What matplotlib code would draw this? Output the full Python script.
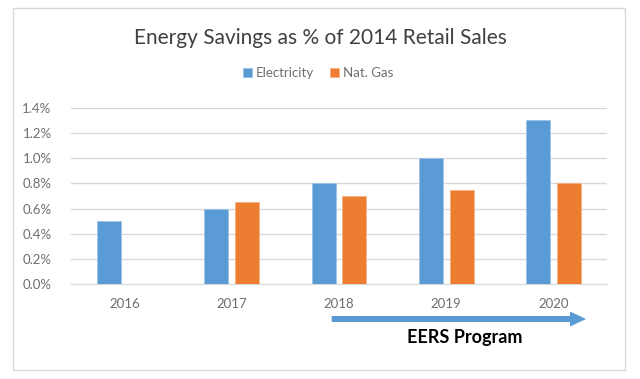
import numpy as np
import matplotlib
matplotlib.use('Agg')
from matplotlib import pyplot as plt
from matplotlib.patches import Rectangle, FancyArrow

plt.rcParams['font.family'] = ['Lato', 'DejaVu Sans']

# data
years = ['2016', '2017', '2018', '2019', '2020']
electricity = [0.5, 0.6, 0.8, 1.0, 1.3]
nat_gas = [np.nan, 0.65, 0.7, 0.75, 0.8]
yticks = [0.0, 0.2, 0.4, 0.6, 0.8, 1.0, 1.2, 1.4]

blue = '#5B9BD5'
orange = '#ED7D31'
grid = '#D9D9D9'
txt = '#6E6E6E'

fig = plt.figure(figsize=(6.4, 3.79), dpi=100)
fig.patch.set_facecolor('white')
# outer chart border
fig.patches.append(Rectangle((13/640, 1-370/379), 612/640, 362/379,
                             transform=fig.transFigure, fill=False,
                             edgecolor=grid, linewidth=1))

ax = fig.add_axes([71/640, 1-284.3/379, 536/640, 176.6/379])
x = np.arange(len(years))
w = 0.224
off = 0.1445
ax.bar(x - off, electricity, w, color=blue, edgecolor='#9DC3E6', linewidth=0.6,
       label='Electricity', zorder=3)
ax.bar(x + off, nat_gas, w, color=orange, edgecolor='#F4B183', linewidth=0.6,
       label='Nat. Gas', zorder=3)

ax.set_xlim(-0.5, len(years) - 0.5)
ax.set_ylim(0, 1.4)
ax.set_yticks(yticks)
ax.set_yticklabels(['%.1f%%' % v for v in yticks])
ax.set_xticks(x)
ax.set_xticklabels(years)
ax.grid(axis='y', color=grid, linewidth=1, zorder=0)
for s in ['top', 'right', 'left']:
    ax.spines[s].set_visible(False)
ax.spines['bottom'].set_color(grid)
ax.tick_params(length=0, colors=txt, labelsize=9.5)
ax.tick_params(axis='y', pad=14)
ax.tick_params(axis='x', pad=10)

fig.text(0.501, 1-38/379, 'Energy Savings as % of 2014 Retail Sales',
         ha='center', va='center', fontsize=15, color='#404040')
fig.legend(loc='center', bbox_to_anchor=(0.497, 1-73/379), ncol=2, frameon=False,
           fontsize=9.5, labelcolor=txt, handlelength=0.7, handleheight=0.7,
           handletextpad=0.3, columnspacing=1.2)

# EERS program arrow
fig.patches.append(FancyArrow(331.7/640, 1-319/379, (586-331.7)/640, 0,
                              width=6/379, head_width=15/379, head_length=16/640,
                              length_includes_head=True, transform=fig.transFigure,
                              color=blue, linewidth=0))
fig.text(465/640, 1-337/379, 'EERS Program', ha='center', va='center',
         fontsize=13, fontweight='bold', color='black')

fig.savefig('out.png', dpi=100)
